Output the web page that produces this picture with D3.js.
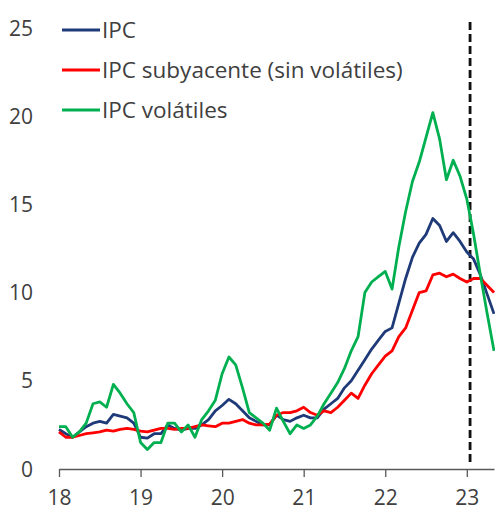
<!DOCTYPE html>
<html>
<head>
<meta charset="utf-8">
<script src="https://cdn.jsdelivr.net/npm/d3@7/dist/d3.min.js"></script>
<style>
  body { margin: 0; background: #fff; }
  svg { display: block; font-family: "Open Sans", Lato, sans-serif; }
</style>
</head>
<body>
<div id="chart"></div>
<script>
// monthly data, Jan 2018 .. May 2023
const startYear = 18;
const ipc = [
  2.25, 2.0, 1.8, 2.1, 2.4, 2.6, 2.7, 2.6, 3.1, 3.0, 2.9, 2.6,
  1.8, 1.75, 2.0, 2.0, 2.5, 2.3, 2.2, 2.3, 2.3, 2.5, 2.8, 3.3,
  3.6, 3.95, 3.7, 3.3, 2.9, 2.7, 2.5, 2.5, 3.05, 2.8, 2.7, 2.9,
  3.05, 2.9, 2.9, 3.4, 3.7, 4.0, 4.6, 5.0, 5.6, 6.2, 6.8, 7.3,
  7.8, 8.0, 9.4, 10.8, 12.0, 12.8, 13.3, 14.2, 13.8, 12.9, 13.4, 12.9,
  12.3, 11.9, 11.0, 9.9, 8.8,
];
const subyacente = [
  2.1, 1.8, 1.8, 1.9, 2.0, 2.05, 2.1, 2.2, 2.15, 2.25, 2.3, 2.25,
  2.15, 2.1, 2.2, 2.3, 2.3, 2.25, 2.3, 2.3, 2.4, 2.5, 2.45, 2.4,
  2.6, 2.6, 2.7, 2.8, 2.6, 2.5, 2.5, 2.55, 3.05, 3.2, 3.2, 3.3,
  3.5, 3.2, 3.05, 3.3, 3.2, 3.5, 3.9, 4.3, 4.0, 4.75, 5.4, 5.9,
  6.4, 6.7, 7.5, 8.0, 9.0, 10.0, 10.1, 11.0, 11.1, 10.9, 11.05, 10.8,
  10.6, 10.8, 10.8, 10.4, 10.0,
];
const volatiles = [
  2.4, 2.4, 1.8, 2.1, 2.6, 3.7, 3.8, 3.5, 4.8, 4.3, 3.7, 3.2,
  1.5, 1.1, 1.5, 1.5, 2.6, 2.6, 2.1, 2.5, 1.8, 2.8, 3.3, 3.9,
  5.4, 6.35, 5.9, 4.6, 3.2, 2.9, 2.6, 2.2, 3.45, 2.7, 2.0, 2.5,
  2.3, 2.5, 3.0, 3.7, 4.3, 4.9, 5.7, 6.7, 7.5, 10.0, 10.6, 10.9,
  11.2, 10.2, 12.6, 14.6, 16.3, 17.4, 18.8, 20.2, 18.7, 16.4, 17.5, 16.6,
  15.3, 13.3, 11.0, 8.8, 6.7,
];
const seriesNames = ['IPC', 'IPC subyacente (sin volátiles)', 'IPC volátiles'];
const seriesColors = ['#1f3a78', '#ff0000', '#00b050'];
const yTicks = [0, 5, 10, 15, 20, 25];
const xTicks = [18, 19, 20, 21, 22, 23];
const cutoff = 23.04;

const width = 495;
const height = 512;

const svg = d3.select('#chart')
  .append('svg')
  .attr('width', width)
  .attr('height', height);

const x = d3.scaleLinear()
  .domain([startYear, startYear + (ipc.length - 1) / 12])
  .range([59, 494]);

const y = d3.scaleLinear()
  .domain([0, 25])
  .range([469, 28]);

const textColor = '#404040';
const axisColor = '#595959';

// y labels (no axis line)
svg.append('g')
  .selectAll('text')
  .data(yTicks)
  .join('text')
  .attr('x', 33)
  .attr('y', (d) => y(d))
  .attr('dy', '0.36em')
  .attr('text-anchor', 'end')
  .attr('fill', textColor)
  .style('font-size', '21px')
  .text((d) => d);

// x axis
const axisX = svg.append('g')
  .attr('transform', `translate(0,${y(0)})`)
  .call(d3.axisBottom(x).tickValues(xTicks).tickSize(8).tickSizeOuter(0).tickPadding(13).tickFormat((d) => d));
axisX.select('.domain').attr('stroke', axisColor).attr('stroke-width', 1.3);
axisX.selectAll('.tick line').attr('stroke', axisColor).attr('stroke-width', 1.3);
axisX.selectAll('.tick text')
  .attr('fill', textColor)
  .style('font-size', '21px')
  .style('font-family', '"Open Sans", Lato, sans-serif');

// dashed cutoff line
svg.append('line')
  .attr('x1', x(cutoff))
  .attr('x2', x(cutoff))
  .attr('y1', 22)
  .attr('y2', y(0) - 3)
  .attr('stroke', '#111')
  .attr('stroke-width', 2.8)
  .attr('stroke-dasharray', '8,4');

const line = d3.line()
  .x((d, i) => x(startYear + i / 12))
  .y((d) => y(d));

const allSeries = [ipc, subyacente, volatiles];
svg.append('g')
  .selectAll('path')
  .data(allSeries)
  .join('path')
  .attr('d', (d) => line(d))
  .attr('fill', 'none')
  .attr('stroke', (d, i) => seriesColors[i])
  .attr('stroke-width', 2.8)
  .attr('stroke-linejoin', 'round');

// legend
const legend = svg.append('g')
  .selectAll('g')
  .data(seriesNames)
  .join('g')
  .attr('transform', (d, i) => `translate(62,${30 + i * 40})`);
legend.append('line')
  .attr('x1', 0)
  .attr('x2', 38)
  .attr('stroke', (d, i) => seriesColors[i])
  .attr('stroke-width', 2.8);
legend.append('text')
  .attr('x', 40)
  .attr('dy', '0.36em')
  .attr('fill', textColor)
  .style('font-size', '22.5px')
  .text((d) => d);
</script>
</body>
</html>
